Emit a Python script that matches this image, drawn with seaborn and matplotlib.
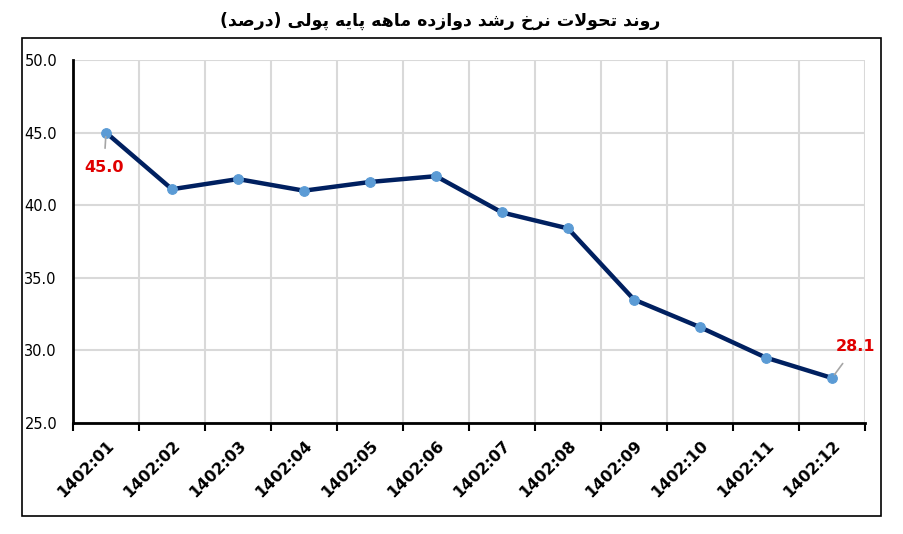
import numpy as np
import pandas as pd
import matplotlib
matplotlib.use('Agg')
import matplotlib.pyplot as plt
from matplotlib.patches import Rectangle
from matplotlib.ticker import FormatStrFormatter, FixedLocator
import seaborn as sns

sns.set_style("white")
plt.rcParams['font.family'] = ['DejaVu Sans']

title = 'روند تحولات نرخ رشد دوازده ماهه پایه پولی (درصد)'
months = ['1402:01', '1402:02', '1402:03', '1402:04', '1402:05', '1402:06',
          '1402:07', '1402:08', '1402:09', '1402:10', '1402:11', '1402:12']
growth = [45.0, 41.1, 41.8, 41.0, 41.6, 42.0, 39.5, 38.4, 33.5, 31.6, 29.5, 28.1]

# matplotlib has no arabic shaping, so map letters to presentation forms by hand
# (isolated, final, initial, medial); two entries -> letter does not join to the next one
forms = {
    'ا': ('\uFE8D', '\uFE8E'),
    'ب': ('\uFE8F', '\uFE90', '\uFE91', '\uFE92'),
    'پ': ('\uFB56', '\uFB57', '\uFB58', '\uFB59'),
    'ت': ('\uFE95', '\uFE96', '\uFE97', '\uFE98'),
    'ح': ('\uFEA1', '\uFEA2', '\uFEA3', '\uFEA4'),
    'خ': ('\uFEA5', '\uFEA6', '\uFEA7', '\uFEA8'),
    'د': ('\uFEA9', '\uFEAA'),
    'ر': ('\uFEAD', '\uFEAE'),
    'ز': ('\uFEAF', '\uFEB0'),
    'ش': ('\uFEB5', '\uFEB6', '\uFEB7', '\uFEB8'),
    'ص': ('\uFEB9', '\uFEBA', '\uFEBB', '\uFEBC'),
    'ل': ('\uFEDD', '\uFEDE', '\uFEDF', '\uFEE0'),
    'م': ('\uFEE1', '\uFEE2', '\uFEE3', '\uFEE4'),
    'ن': ('\uFEE5', '\uFEE6', '\uFEE7', '\uFEE8'),
    'ه': ('\uFEE9', '\uFEEA', '\uFEEB', '\uFEEC'),
    'و': ('\uFEED', '\uFEEE'),
    'ی': ('\uFBFC', '\uFBFD', '\uFBFE', '\uFBFF'),
    'لا': ('\uFEFB', '\uFEFC'),
}


def shape(text):
    chars = []
    i = 0
    while i < len(text):
        if text[i] == 'ل' and i + 1 < len(text) and text[i + 1] == 'ا':
            chars.append('لا')
            i += 2
        else:
            chars.append(text[i])
            i += 1
    out = []
    for k, c in enumerate(chars):
        if c not in forms:
            out.append(c)
            continue
        prev = chars[k - 1] if k > 0 else None
        nxt = chars[k + 1] if k + 1 < len(chars) else None
        join_prev = prev in forms and len(forms[prev]) == 4
        join_next = len(forms[c]) == 4 and nxt in forms
        f = forms[c]
        if join_prev and join_next:
            out.append(f[3])
        elif join_prev:
            out.append(f[1])
        elif join_next:
            out.append(f[2])
        else:
            out.append(f[0])
    s = ''.join(out)[::-1]
    return s.translate(str.maketrans('()', ')('))


df = pd.DataFrame({'month': months, 'growth': growth})

fig = plt.figure(figsize=(9.04, 5.34), dpi=100)
ax = fig.add_axes([73 / 904, 111 / 534, 792 / 904, 363 / 534])

sns.lineplot(data=df, x='month', y='growth', ax=ax, color='#002060', linewidth=3.2,
             marker='o', markersize=7, markerfacecolor='#5B9BD5',
             markeredgecolor='#5B9BD5', sort=False)

ax.set_xlim(-0.5, len(months) - 0.5)
ax.set_ylim(25, 50)
ax.set_yticks(np.arange(25, 50.1, 5))
ax.yaxis.set_major_formatter(FormatStrFormatter('%.1f'))
ax.set_xlabel('')
ax.set_ylabel('')

ax.set_xticks(range(len(months)))
ax.set_xticklabels(months, rotation=45, ha='right', va='top', rotation_mode='anchor',
                   fontsize=11.5, fontweight='bold', color='black')
ax.xaxis.set_minor_locator(FixedLocator(np.arange(-0.5, len(months), 1)))
ax.tick_params(axis='x', which='major', length=0, pad=11)
ax.tick_params(axis='x', which='minor', length=6, width=1.5, color='black', direction='out', bottom=True)
ax.tick_params(axis='y', length=0, pad=35, labelsize=10.5, labelcolor='black')
for lab in ax.get_yticklabels():
    lab.set_horizontalalignment('left')

ax.grid(False)
ax.yaxis.grid(True, color='#d9d9d9', linewidth=1.5)
ax.xaxis.grid(True, which='minor', color='#d9d9d9', linewidth=1.5)
ax.set_axisbelow(True)

sns.despine(ax=ax, top=True, right=True)
ax.spines['left'].set_color('black')
ax.spines['left'].set_linewidth(2)
ax.spines['bottom'].set_color('black')
ax.spines['bottom'].set_linewidth(2)

ax.annotate(f'{growth[0]:.1f}', xy=(0, growth[0]), xytext=(-1.5, -25), textcoords='offset points',
            ha='center', va='center', color='#E00000', fontsize=11.5, fontweight='bold',
            arrowprops=dict(arrowstyle='-', color='#a6a6a6', lw=1.2, shrinkA=6, shrinkB=3))
ax.annotate(f'{growth[-1]:.1f}', xy=(len(months) - 1, growth[-1]), xytext=(17, 23), textcoords='offset points',
            ha='center', va='center', color='#E00000', fontsize=11.5, fontweight='bold',
            arrowprops=dict(arrowstyle='-', color='#a6a6a6', lw=1.2, shrinkA=6, shrinkB=3))

fig.text(0.487, 0.96, shape(title), ha='center', va='center', fontsize=12.5, fontweight='bold',
         color='black')

fig.patches.append(Rectangle((22 / 904, 18 / 534), 859 / 904, 478 / 534, transform=fig.transFigure,
                             fill=False, edgecolor='black', linewidth=1.2))

fig.savefig('out.png', dpi=100)
